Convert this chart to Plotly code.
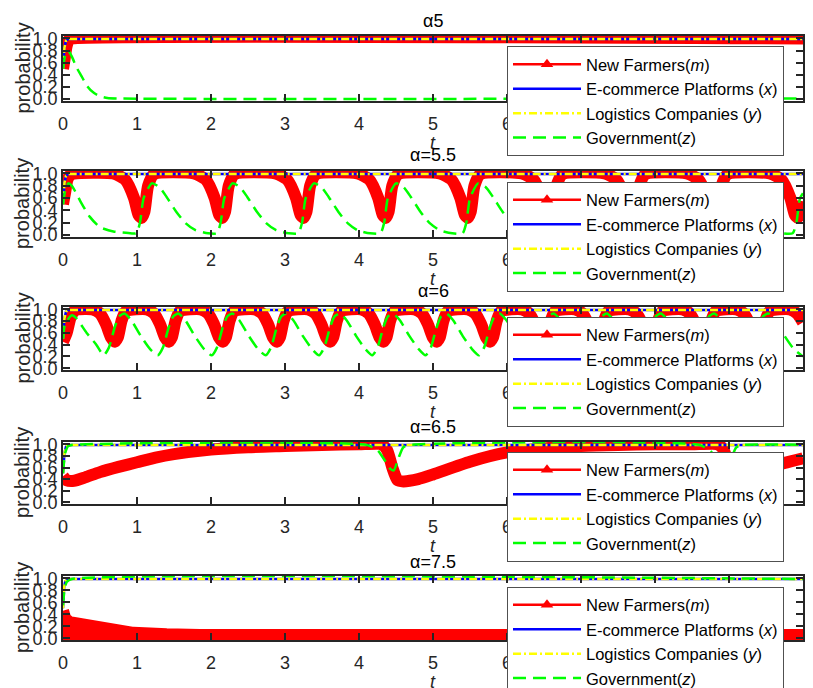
import plotly.graph_objects as go

# ---------------- data ----------------
TITLES = ["α5", "α=5.5", "α=6", "α=6.5", "α=7.5"]
Y_TICKS = [0.0, 0.2, 0.4, 0.6, 0.8, 1.0]
X_TICKS = [0, 1, 2, 3, 4, 5, 6, 7, 8, 9, 10]
LEGEND_NAMES = ["New Farmers(<i>m</i>)", "E-commerce Platforms (<i>x</i>)",
                "Logistics Companies (<i>y</i>)", "Government(<i>z</i>)"]

# panel 1 : alpha 5
t1_m = [0, 0.02, 0.05, 0.08, 0.12, 10]
m1 = [0.50, 0.65, 0.88, 0.98, 1.00, 1.00]
t1_x = [0, 0.02, 0.04, 0.07, 10]
x1 = [0.50, 0.85, 0.96, 0.99, 0.99]
t1_y = [0, 0.02, 0.04, 0.07, 10]
y1 = [0.50, 0.85, 0.96, 0.99, 0.99]
t1_z = [0, 0.03, 0.07, 0.12, 0.18, 0.25, 0.33, 0.42, 0.50, 0.60, 0.80, 10]
z1 = [0.50, 0.72, 0.80, 0.70, 0.53, 0.38, 0.21, 0.10, 0.05, 0.02, 0.01, 0.01]

# panel 2 : alpha 5.5
t2_m = [0, 0.03, 0.06, 0.10, 0.15,
        0.68, 0.84, 0.96, 1.02, 1.06, 1.10, 1.15, 1.23,
        1.77, 1.93, 2.05, 2.11, 2.15, 2.19, 2.24, 2.32,
        2.87, 3.03, 3.15, 3.21, 3.25, 3.29, 3.34, 3.42,
        3.98, 4.14, 4.26, 4.32, 4.36, 4.40, 4.45, 4.53,
        5.09, 5.25, 5.37, 5.43, 5.47, 5.51, 5.56, 5.64,
        6.20, 6.36, 6.48, 6.54, 6.58, 6.62, 6.67, 6.75,
        7.32, 7.48, 7.60, 7.66, 7.70, 7.74, 7.79, 7.87,
        8.43, 8.59, 8.71, 8.77, 8.81, 8.85, 8.90, 8.98,
        9.55, 9.71, 9.83, 9.89, 9.93, 9.97, 10.0]
m2 = [0.50, 0.70, 0.90, 0.98, 1.00,
      1.00, 0.90, 0.60, 0.33, 0.28, 0.38, 0.80, 0.99,
      1.00, 0.90, 0.60, 0.33, 0.28, 0.38, 0.80, 0.99,
      1.00, 0.90, 0.60, 0.33, 0.28, 0.38, 0.80, 0.99,
      1.00, 0.90, 0.60, 0.33, 0.28, 0.38, 0.80, 0.99,
      1.00, 0.90, 0.60, 0.33, 0.28, 0.38, 0.80, 0.99,
      1.00, 0.90, 0.60, 0.33, 0.28, 0.38, 0.80, 0.99,
      1.00, 0.90, 0.60, 0.33, 0.28, 0.38, 0.80, 0.99,
      1.00, 0.90, 0.60, 0.33, 0.28, 0.38, 0.80, 0.99,
      1.00, 0.90, 0.60, 0.33, 0.28, 0.38, 0.55]
t2_x = [0, 0.02, 0.04, 0.07, 10]
x2 = [0.50, 0.85, 0.96, 0.99, 0.99]
t2_y = [0, 0.02, 0.04, 0.07, 10]
y2 = [0.50, 0.85, 0.96, 0.99, 0.99]
t2_z = [0, 0.03, 0.07, 0.12, 0.23, 0.36, 0.50, 0.68, 0.85,
        0.99, 1.04, 1.09, 1.20, 1.30, 1.40, 1.53, 1.66, 1.79, 1.96,
        2.08, 2.13, 2.18, 2.29, 2.39, 2.49, 2.62, 2.75, 2.88, 3.05,
        3.18, 3.23, 3.28, 3.39, 3.49, 3.59, 3.72, 3.85, 3.98, 4.15,
        4.29, 4.34, 4.39, 4.50, 4.60, 4.70, 4.83, 4.96, 5.09, 5.26,
        5.40, 5.45, 5.50, 5.61, 5.71, 5.81, 5.94, 6.07, 6.20, 6.37,
        6.51, 6.56, 6.61, 6.72, 6.82, 6.92, 7.05, 7.18, 7.31, 7.48,
        7.63, 7.68, 7.73, 7.84, 7.94, 8.04, 8.17, 8.30, 8.43, 8.60,
        8.74, 8.79, 8.84, 8.95, 9.05, 9.15, 9.28, 9.41, 9.54, 9.71,
        9.86, 9.91, 9.96, 10.0]
z2 = [0.50, 0.72, 0.84, 0.80, 0.56, 0.30, 0.13, 0.06, 0.04,
      0.03, 0.20, 0.60, 0.84, 0.78, 0.62, 0.38, 0.19, 0.08, 0.03,
      0.03, 0.20, 0.60, 0.84, 0.78, 0.62, 0.38, 0.19, 0.08, 0.03,
      0.03, 0.20, 0.60, 0.84, 0.78, 0.62, 0.38, 0.19, 0.08, 0.03,
      0.03, 0.20, 0.60, 0.84, 0.78, 0.62, 0.38, 0.19, 0.08, 0.03,
      0.03, 0.20, 0.60, 0.84, 0.78, 0.62, 0.38, 0.19, 0.08, 0.03,
      0.03, 0.20, 0.60, 0.84, 0.78, 0.62, 0.38, 0.19, 0.08, 0.03,
      0.03, 0.20, 0.60, 0.84, 0.78, 0.62, 0.38, 0.19, 0.08, 0.03,
      0.03, 0.20, 0.60, 0.84, 0.78, 0.62, 0.38, 0.19, 0.08, 0.03,
      0.03, 0.20, 0.60, 0.68]

# panel 3 : alpha 6
t3_m = [0, 0.05, 0.10, 0.15, 0.20,
        0.40, 0.50, 0.58, 0.65, 0.70, 0.74, 0.79, 0.85,
        1.13, 1.23, 1.31, 1.38, 1.43, 1.47, 1.52, 1.58,
        1.86, 1.96, 2.04, 2.11, 2.16, 2.20, 2.25, 2.31,
        2.59, 2.69, 2.77, 2.84, 2.89, 2.93, 2.98, 3.04,
        3.31, 3.41, 3.49, 3.56, 3.61, 3.65, 3.70, 3.76,
        4.03, 4.13, 4.21, 4.28, 4.33, 4.37, 4.42, 4.48,
        4.75, 4.85, 4.93, 5.00, 5.05, 5.09, 5.14, 5.20,
        5.47, 5.57, 5.65, 5.72, 5.77, 5.81, 5.86, 5.92,
        6.20, 6.30, 6.38, 6.45, 6.50, 6.54, 6.59, 6.65,
        6.92, 7.02, 7.10, 7.17, 7.22, 7.26, 7.31, 7.37,
        7.65, 7.75, 7.83, 7.90, 7.95, 7.99, 8.04, 8.10,
        8.37, 8.47, 8.55, 8.62, 8.67, 8.71, 8.76, 8.82,
        9.10, 9.20, 9.28, 9.35, 9.40, 9.44, 9.49, 9.55,
        9.82, 9.92, 10.0]
m3 = [0.45, 0.60, 0.85, 0.97, 1.00,
      1.00, 0.93, 0.75, 0.52, 0.45, 0.52, 0.80, 0.97,
      1.00, 0.93, 0.75, 0.52, 0.45, 0.52, 0.80, 0.97,
      1.00, 0.93, 0.75, 0.52, 0.45, 0.52, 0.80, 0.97,
      1.00, 0.93, 0.75, 0.52, 0.45, 0.52, 0.80, 0.97,
      1.00, 0.93, 0.75, 0.52, 0.45, 0.52, 0.80, 0.97,
      1.00, 0.93, 0.75, 0.52, 0.45, 0.52, 0.80, 0.97,
      1.00, 0.93, 0.75, 0.52, 0.45, 0.52, 0.80, 0.97,
      1.00, 0.93, 0.75, 0.52, 0.45, 0.52, 0.80, 0.97,
      1.00, 0.93, 0.75, 0.52, 0.45, 0.52, 0.80, 0.97,
      1.00, 0.93, 0.75, 0.52, 0.45, 0.52, 0.80, 0.97,
      1.00, 0.93, 0.75, 0.52, 0.45, 0.52, 0.80, 0.97,
      1.00, 0.93, 0.75, 0.52, 0.45, 0.52, 0.80, 0.97,
      1.00, 0.93, 0.75, 0.52, 0.45, 0.52, 0.80, 0.97,
      1.00, 0.93, 0.78]
t3_x = [0, 0.02, 0.04, 0.07, 10]
x3 = [0.50, 0.85, 0.96, 0.99, 0.99]
t3_y = [0, 0.02, 0.04, 0.07, 10]
y3 = [0.50, 0.85, 0.96, 0.99, 0.99]
t3_z = [0, 0.03, 0.12, 0.18, 0.32, 0.45,
        0.55, 0.62, 0.70, 0.76, 0.83, 0.92, 1.05, 1.18,
        1.28, 1.35, 1.43, 1.49, 1.56, 1.65, 1.78, 1.91,
        2.01, 2.08, 2.16, 2.22, 2.29, 2.38, 2.51, 2.64,
        2.74, 2.81, 2.89, 2.95, 3.02, 3.11, 3.24, 3.37,
        3.46, 3.53, 3.61, 3.67, 3.74, 3.83, 3.96, 4.09,
        4.18, 4.25, 4.33, 4.39, 4.46, 4.55, 4.68, 4.81,
        4.90, 4.97, 5.05, 5.11, 5.18, 5.27, 5.40, 5.53,
        5.62, 5.69, 5.77, 5.83, 5.90, 5.99, 6.12, 6.25,
        6.35, 6.42, 6.50, 6.56, 6.63, 6.72, 6.85, 6.98,
        7.07, 7.14, 7.22, 7.28, 7.35, 7.44, 7.57, 7.70,
        7.80, 7.87, 7.95, 8.01, 8.08, 8.17, 8.30, 8.43,
        8.52, 8.59, 8.67, 8.73, 8.80, 8.89, 9.02, 9.15,
        9.25, 9.32, 9.40, 9.46, 9.53, 9.62, 9.75, 9.88,
        10.0]
z3 = [0.50, 0.76, 0.90, 0.85, 0.60, 0.40,
      0.22, 0.35, 0.70, 0.88, 0.93, 0.82, 0.55, 0.32,
      0.22, 0.35, 0.70, 0.88, 0.93, 0.82, 0.55, 0.32,
      0.22, 0.35, 0.70, 0.88, 0.93, 0.82, 0.55, 0.32,
      0.22, 0.35, 0.70, 0.88, 0.93, 0.82, 0.55, 0.32,
      0.22, 0.35, 0.70, 0.88, 0.93, 0.82, 0.55, 0.32,
      0.22, 0.35, 0.70, 0.88, 0.93, 0.82, 0.55, 0.32,
      0.22, 0.35, 0.70, 0.88, 0.93, 0.82, 0.55, 0.32,
      0.22, 0.35, 0.70, 0.88, 0.93, 0.82, 0.55, 0.32,
      0.22, 0.35, 0.70, 0.88, 0.93, 0.82, 0.55, 0.32,
      0.22, 0.35, 0.70, 0.88, 0.93, 0.82, 0.55, 0.32,
      0.22, 0.35, 0.70, 0.88, 0.93, 0.82, 0.55, 0.32,
      0.22, 0.35, 0.70, 0.88, 0.93, 0.82, 0.55, 0.32,
      0.22, 0.35, 0.70, 0.88, 0.93, 0.82, 0.55, 0.32,
      0.20]

# panel 4 : alpha 6.5
t4_m = [0, 0.05, 0.15, 0.30, 0.50, 0.75, 1.00, 1.25, 1.50, 2.00, 2.50, 3.00,
        3.50, 4.00, 4.30, 4.38, 4.45, 4.52, 4.60, 4.80, 5.00, 5.50, 6.00, 6.50,
        7.00, 7.50, 8.00, 8.50, 8.85, 8.93, 9.00, 9.07, 9.15, 9.35, 9.55, 9.75, 10.0]
m4 = [0.45, 0.38, 0.37, 0.43, 0.52, 0.61, 0.69, 0.77, 0.83, 0.91, 0.95, 0.97,
      0.99, 1.00, 1.00, 0.90, 0.60, 0.38, 0.36, 0.40, 0.48, 0.70, 0.86, 0.93,
      0.97, 0.99, 1.00, 1.00, 1.00, 0.90, 0.60, 0.38, 0.36, 0.48, 0.60, 0.68, 0.76]
t4_x = [0, 0.02, 0.04, 0.07, 10]
x4 = [0.50, 0.85, 0.96, 0.99, 0.99]
t4_y = [0, 0.02, 0.04, 0.07, 10]
y4 = [0.50, 0.85, 0.96, 0.99, 0.99]
t4_z = [0, 0.03, 0.07, 0.12, 4.10, 4.25, 4.35, 4.42, 4.47, 4.53, 4.60, 4.70,
        8.60, 8.75, 8.85, 8.92, 8.97, 9.03, 9.10, 9.20, 10.0]
z4 = [0.50, 0.85, 0.97, 0.99, 0.99, 0.90, 0.72, 0.58, 0.55, 0.75, 0.95, 0.99,
      0.99, 0.88, 0.72, 0.58, 0.55, 0.75, 0.95, 0.99, 0.99]

# panel 5 : alpha 7.5  (m oscillates fast: lower and upper envelope)
t5_m_low = [0, 10]
m5_low = [0.035, 0.035]
t5_m_high = [0, 0.03, 0.09, 0.23, 0.50, 0.95, 1.40, 1.85, 10]
m5_high = [0.46, 0.33, 0.27, 0.24, 0.19, 0.09, 0.065, 0.055, 0.055]
t5_x = [0, 0.015, 0.03, 0.06, 10]
x5 = [0.50, 0.85, 0.95, 0.99, 0.99]
t5_y = [0, 0.015, 0.03, 0.06, 10]
y5 = [0.50, 0.85, 0.95, 0.99, 0.99]
t5_z = [0, 0.02, 0.05, 0.12, 10]
z5 = [0.55, 0.80, 0.94, 0.99, 0.99]

# ---------------- figure ----------------
W, H = 813, 688
FONT = "Arial, 'Liberation Sans', sans-serif"
RED, BLUE, YELLOW, GREEN = "#ff0000", "#0000ff", "#ffff00", "#00ff00"
AXC = "#262626"

X0, X1 = 63, 803
PANELS = [(36, 101), (171, 237), (307, 370), (442, 504), (576, 640)]
TITLE_Y = [21, 155, 291, 427, 562]
LEGEND_TOP = [46, 181.5, 316.5, 451.5, 586.5]

fig = go.Figure()

panels = [
    dict(m=[(t1_m, m1)], x=(t1_x, x1), y=(t1_y, y1), z=(t1_z, z1)),
    dict(m=[(t2_m, m2)], x=(t2_x, x2), y=(t2_y, y2), z=(t2_z, z2)),
    dict(m=[(t3_m, m3)], x=(t3_x, x3), y=(t3_y, y3), z=(t3_z, z3)),
    dict(m=[(t4_m, m4)], x=(t4_x, x4), y=(t4_y, y4), z=(t4_z, z4)),
    dict(m=None, x=(t5_x, x5), y=(t5_y, y5), z=(t5_z, z5)),
]

RED_W = 12
for i, p in enumerate(panels):
    k = "" if i == 0 else str(i + 1)
    xa, ya, lg = "x" + k, "y" + k, "legend" + k
    if p["m"] is not None:
        for tt, vv in p["m"]:
            fig.add_trace(go.Scatter(x=tt, y=vv, mode="lines", xaxis=xa, yaxis=ya,
                                     line=dict(color=RED, width=RED_W, shape="spline", smoothing=0.6),
                                     showlegend=False, hoverinfo="skip"))
    else:
        fig.add_trace(go.Scatter(x=t5_m_low, y=m5_low, mode="lines", xaxis=xa, yaxis=ya,
                                 line=dict(color=RED, width=RED_W), showlegend=False, hoverinfo="skip"))
        fig.add_trace(go.Scatter(x=t5_m_high, y=m5_high, mode="lines", xaxis=xa, yaxis=ya,
                                 line=dict(color=RED, width=RED_W), fill="tonexty", fillcolor=RED,
                                 showlegend=False, hoverinfo="skip"))
    # legend entry for red (line + triangle)
    fig.add_trace(go.Scatter(x=[None], y=[None], mode="lines+markers", xaxis=xa, yaxis=ya,
                             name=LEGEND_NAMES[0], legend=lg,
                             line=dict(color=RED, width=2.5),
                             marker=dict(symbol="triangle-up", size=11, color=RED)))
    fig.add_trace(go.Scatter(x=p["x"][0], y=p["x"][1], mode="lines", xaxis=xa, yaxis=ya,
                             name=LEGEND_NAMES[1], legend=lg,
                             line=dict(color=BLUE, width=2.5)))
    fig.add_trace(go.Scatter(x=p["y"][0], y=p["y"][1], mode="lines", xaxis=xa, yaxis=ya,
                             name=LEGEND_NAMES[2], legend=lg,
                             line=dict(color=YELLOW, width=2.5, dash="8px,3px,2px,3px")))
    fig.add_trace(go.Scatter(x=p["z"][0], y=p["z"][1], mode="lines", xaxis=xa, yaxis=ya,
                             name=LEGEND_NAMES[3], legend=lg,
                             line=dict(color=GREEN, width=2.5, dash="13px,7px", shape="spline", smoothing=0.6)))

layout = dict(width=W, height=H, margin=dict(l=0, r=0, t=0, b=0, autoexpand=False),
              paper_bgcolor="white", plot_bgcolor="white",
              font=dict(family=FONT, color="#000000", size=18),
              showlegend=True, annotations=[])

for i, (top, bot) in enumerate(PANELS):
    k = "" if i == 0 else str(i + 1)
    xa_name, ya_name = "xaxis" + k, "yaxis" + k
    layout[xa_name] = dict(domain=[X0 / W, X1 / W], range=[0, 10], anchor="y" + k,
                           tickmode="array", tickvals=X_TICKS, ticktext=[str(v) for v in X_TICKS],
                           ticks="inside", ticklen=7, tickwidth=1.5, tickcolor=AXC,
                           showline=True, linecolor=AXC, linewidth=1.5, mirror="ticks",
                           showgrid=False, zeroline=False, automargin=False,
                           ticklabelstandoff=6,
                           tickfont=dict(size=18, family=FONT, color="#262626"))
    layout[ya_name] = dict(domain=[1 - bot / H, 1 - top / H], range=[-0.03, 1.04], anchor="x" + k,
                           tickmode="array", tickvals=Y_TICKS, ticktext=["%.1f" % v for v in Y_TICKS],
                           ticks="inside", ticklen=7, tickwidth=1.5, tickcolor=AXC,
                           showline=True, linecolor=AXC, linewidth=1.5, mirror="ticks",
                           showgrid=False, zeroline=False, automargin=False,
                           ticklabelstandoff=0,
                           tickfont=dict(size=18, family=FONT, color="#262626"))
    lg = "legend" + k
    layout[lg] = dict(x=507 / W, y=1 - LEGEND_TOP[i] / H, xanchor="left", yanchor="top",
                      bgcolor="white", bordercolor="#505050", borderwidth=1,
                      font=dict(size=16.5, family=FONT, color="#000000"),
                      itemwidth=68, tracegroupgap=0, traceorder="normal")
    # title
    layout["annotations"].append(dict(text=TITLES[i], x=433 / W, y=1 - TITLE_Y[i] / H,
                                      xref="paper", yref="paper", showarrow=False,
                                      xanchor="center", yanchor="middle",
                                      font=dict(size=18, family=FONT, color="#000000")))
    # x label
    layout["annotations"].append(dict(text="<i>t</i>", x=433 / W, y=1 - (bot + 42) / H,
                                      xref="paper", yref="paper", showarrow=False,
                                      xanchor="center", yanchor="middle",
                                      font=dict(size=18, family=FONT, color="#262626")))
    # y label
    layout["annotations"].append(dict(text="probability", x=22 / W, y=1 - (top + bot) / 2 / H,
                                      xref="paper", yref="paper", showarrow=False,
                                      textangle=-90, xanchor="center", yanchor="middle",
                                      font=dict(size=20, family=FONT, color="#262626")))

fig.update_layout(**layout)
fig.write_html("out.html", config={"displayModeBar": False},
               post_script="document.body.style.margin='0';document.body.style.overflow='hidden';")
